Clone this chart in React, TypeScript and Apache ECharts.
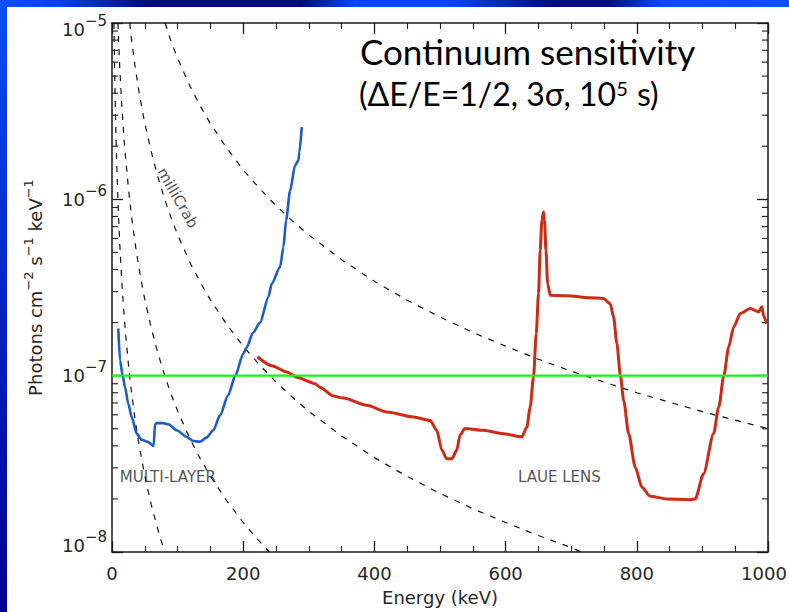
import React, { useEffect, useRef } from 'react';
import * as echarts from 'echarts';

// ---- axis ranges & ticks ----
const energyMin = 0;
const energyMax = 1000;
const energyTickStep = 200;
const fluxMin = 1e-8;
const fluxMax = 1e-5;
const minorMantissas = [2, 3, 4, 5, 6, 7, 8, 9];
const minorDecades = [-8, -7, -6];

// ---- instrument sensitivity curves (Energy keV, photons cm^-2 s^-1 keV^-1) ----
const multiLayer: number[][] = [
  [9.6, 1.85e-7], [12.2, 1.22e-7], [16.3, 1.0e-7], [19.8, 8.6e-8], [24.9, 6.93e-8],
  [30, 5.82e-8], [37.7, 4.69e-8], [45.3, 4.33e-8], [55.4, 4.2e-8], [63.5, 3.99e-8],
  [65.5, 5.3e-8], [68, 5.38e-8], [78, 5.38e-8], [86, 5.3e-8], [98.6, 4.9e-8],
  [114, 4.49e-8], [124, 4.26e-8], [134, 4.22e-8], [144, 4.45e-8], [154.5, 4.9e-8],
  [164.7, 5.96e-8], [177, 7.73e-8], [188, 1.0e-7], [200, 1.33e-7], [205.4, 1.45e-7],
  [215, 1.75e-7], [225.7, 2.0e-7], [238.4, 2.79e-7], [243.6, 3.33e-7], [256.2, 4.13e-7],
  [261.3, 5.36e-7], [265.4, 7.6e-7], [271.5, 1.12e-6], [279.1, 1.56e-6], [284.1, 1.66e-6],
  [285.6, 1.85e-6], [289.3, 2.57e-6],
];

const laueLens: number[][] = [
  [221.6, 1.28e-7], [243.5, 1.14e-7], [266.4, 1.05e-7], [281.6, 9.8e-8], [309.6, 9.0e-8],
  [317, 8.6e-8], [337.5, 7.66e-8], [352.7, 7.46e-8], [388, 6.79e-8], [419, 6.22e-8],
  [459.5, 5.83e-8], [485, 5.57e-8], [495, 4.9e-8], [503, 3.77e-8], [510, 3.38e-8],
  [518, 3.38e-8], [525.5, 3.77e-8], [530.5, 4.6e-8], [538, 5.01e-8], [566, 4.9e-8],
  [596.8, 4.69e-8], [624.8, 4.49e-8], [632.4, 5.11e-8], [637.5, 6.64e-8], [642.5, 9.8e-8],
  [646.7, 1.73e-7], [650.2, 2.92e-7], [652.7, 5.14e-7], [655.3, 7.6e-7], [657.8, 8.47e-7],
  [659.3, 7.6e-7], [661.5, 5.14e-7], [664, 3.33e-7], [668, 2.86e-7], [693.4, 2.84e-7],
  [729, 2.77e-7], [749, 2.74e-7], [759.5, 2.56e-7], [764.6, 2.15e-7], [769.6, 1.52e-7],
  [775, 1.0e-7], [780, 7.24e-8], [787.6, 4.69e-8], [797.6, 3.03e-8], [807.8, 2.33e-8],
  [820.5, 2.07e-8], [846, 2.0e-8], [881.5, 1.98e-8], [889, 2.0e-8], [901.8, 2.78e-8],
  [917, 4.69e-8], [925, 6.64e-8], [932.6, 1.0e-7], [940, 1.45e-7], [947.7, 1.89e-7],
  [957.8, 2.25e-7], [973, 2.4e-7], [985.7, 2.3e-7], [990.8, 2.46e-7], [993, 2.2e-7],
  [998, 1.97e-7],
];

const requirement: number[][] = [[0, 1e-7], [1000, 1e-7]];

// ---- Crab-unit reference curves (dashed) ----
const crab10m: number[][] = [
  [81, 1.0e-5], [90, 7.87e-6], [100, 6.31e-6], [110, 5.2e-6], [120, 4.3e-6], [135, 3.36e-6],
  [150, 2.69e-6], [175, 1.95e-6], [200, 1.47e-6], [225, 1.15e-6], [250, 9.21e-7],
  [275, 7.55e-7], [300, 6.28e-7], [350, 4.55e-7], [400, 3.43e-7], [450, 2.68e-7],
  [500, 2.15e-7], [550, 1.76e-7], [600, 1.47e-7], [650, 1.24e-7], [700, 1.06e-7],
  [800, 8.0e-8], [900, 6.25e-8], [1000, 5.01e-8],
];
const crab1m: number[][] = [
  [27, 1.0e-5], [30, 7.9e-6], [35, 5.72e-6], [40, 4.32e-6], [45, 3.39e-6], [50, 2.7e-6],
  [60, 1.85e-6], [70, 1.34e-6], [80, 1.01e-6], [90, 7.87e-7], [100, 6.31e-7], [120, 4.3e-7],
  [135, 3.36e-7], [150, 2.69e-7], [175, 1.95e-7], [200, 1.47e-7], [225, 1.15e-7],
  [250, 9.21e-8], [275, 7.55e-8], [300, 6.28e-8], [350, 4.55e-8], [400, 3.43e-8],
  [450, 2.68e-8], [500, 2.15e-8], [550, 1.76e-8], [600, 1.47e-8], [650, 1.24e-8],
  [700, 1.06e-8], [715, 1.0e-8],
];
const crab01m: number[][] = [
  [9, 1.0e-5], [10, 7.94e-6], [12, 5.42e-6], [15, 3.39e-6], [17.5, 2.45e-6], [20, 1.85e-6],
  [25, 1.16e-6], [30, 7.9e-7], [35, 5.72e-7], [40, 4.32e-7], [45, 3.39e-7], [50, 2.7e-7],
  [60, 1.85e-7], [70, 1.34e-7], [80, 1.01e-7], [90, 7.87e-8], [100, 6.31e-8], [120, 4.3e-8],
  [135, 3.36e-8], [150, 2.69e-8], [175, 1.95e-8], [200, 1.47e-8], [220, 1.2e-8], [240, 1.0e-8],
];
const crab001m: number[][] = [
  [3, 1.0e-5], [4, 5.44e-6], [5, 3.4e-6], [6, 2.32e-6], [7, 1.69e-6], [8, 1.27e-6],
  [10, 7.94e-7], [12, 5.42e-7], [15, 3.39e-7], [17.5, 2.45e-7], [20, 1.85e-7], [25, 1.16e-7],
  [30, 7.9e-8], [35, 5.72e-8], [40, 4.32e-8], [45, 3.39e-8], [50, 2.7e-8], [60, 1.85e-8],
  [70, 1.34e-8], [80, 1.0e-8],
];

// ---- annotations (data coordinates) ----
const multiLayerLabel = { text: 'MULTI-LAYER', at: [12, 2.65e-8] };
const laueLabel = { text: 'LAUE LENS', at: [619, 2.65e-8] };
const crabLabel = { text: 'milliCrab', at: [100, 1.02e-6] };

const titleLine1 = 'Continuum sensitivity';
const titleLine2 = ['(ΔE/E=1/2, 3σ, 10', '5', ' s)'];

const AXIS = '#1a1a1a';
const TXT = '#262626';
const FONT = 'DejaVu Sans';

const yMinorTicks = minorDecades.flatMap((d) => minorMantissas.map((m) => m * Math.pow(10, d)));

function yLabel(v: number) {
  const e = Math.round(Math.log10(v));
  const core = `{b|10}{s|−${Math.abs(e)}}`;
  if (e === -5) return `{g| }\n${core}`;
  if (e === -8) return `${core}\n{g| }`;
  return core;
}

function xLabel(v: number) {
  return v === energyMax ? `{r|${v}}` : String(v);
}

const dashed = (data: number[][]) => ({
  type: 'line',
  data,
  showSymbol: false,
  symbol: 'none',
  smooth: false,
  silent: true,
  lineStyle: { color: '#111', width: 1.2, type: [6, 7] },
  z: 2,
});

const textLabelSeries = (item: { text: string; at: number[] }, extra: any) => ({
  type: 'scatter',
  data: [item.at],
  symbolSize: 0,
  silent: true,
  z: 4,
  label: {
    show: true,
    formatter: item.text,
    color: TXT,
    fontFamily: FONT,
    fontSize: 15,
    ...extra,
  },
});

export default function App() {
  const ref = useRef<HTMLDivElement>(null);
  useEffect(() => {
    const chart = echarts.init(ref.current!, null, { renderer: 'svg' });
    const axisCommonX = {
      type: 'value',
      min: energyMin,
      max: energyMax,
      interval: energyTickStep,
      axisLine: { show: true, onZero: false, lineStyle: { color: AXIS, width: 1.5 } },
      axisTick: { show: true, inside: true, length: 11, lineStyle: { color: AXIS, width: 1.3 } },
      minorTick: { show: true, splitNumber: 4, length: 6, lineStyle: { color: AXIS, width: 1.1 } },
      splitLine: { show: false },
      minorSplitLine: { show: false },
    };
    const axisCommonY = {
      type: 'log',
      logBase: 10,
      min: fluxMin,
      max: fluxMax,
      axisLine: { show: true, onZero: false, lineStyle: { color: AXIS, width: 1.5 } },
      axisTick: { show: true, inside: true, length: 11, lineStyle: { color: AXIS, width: 1.3 } },
      splitLine: { show: false },
      minorSplitLine: { show: false },
    };
    const option: any = {
      animation: false,
      backgroundColor: '#ffffff',
      grid: { left: 112, right: 21, top: 23, bottom: 60, outerBoundsMode: 'none', containLabel: false },
      xAxis: [
        {
          ...axisCommonX,
          position: 'bottom',
          axisLabel: {
            show: true, margin: 12, color: TXT, fontFamily: FONT, fontSize: 18,
            showMinLabel: true, showMaxLabel: true,
            formatter: xLabel,
            rich: { r: { fontFamily: FONT, fontSize: 18, color: TXT, padding: [0, 8, 0, 0] } },
          },
          name: 'Energy (keV)',
          nameLocation: 'middle',
          nameGap: 36,
          nameMoveOverlap: false,
          nameTextStyle: { color: TXT, fontFamily: FONT, fontSize: 18 },
        },
        { ...axisCommonX, position: 'top', axisLabel: { show: false } },
      ],
      yAxis: [
        {
          ...axisCommonY,
          position: 'left',
          axisLabel: {
            show: true,
            margin: 5,
            showMinLabel: true,
            showMaxLabel: true,
            formatter: yLabel,
            rich: {
              b: { fontFamily: FONT, fontSize: 18, lineHeight: 32, color: TXT },
              s: { fontFamily: FONT, fontSize: 15, verticalAlign: 'top', color: TXT },
              g: { fontSize: 10, lineHeight: 13 },
            },
          },
          name: '{n|Photons cm}{s|−2}{n| s}{s|−1}{n| keV}{s|−1}',
          nameLocation: 'middle',
          nameGap: 64,
          nameRotate: 90,
          nameMoveOverlap: false,
          nameTextStyle: {
            rich: {
              n: { fontFamily: FONT, fontSize: 18, lineHeight: 26, color: TXT },
              s: { fontFamily: FONT, fontSize: 13, verticalAlign: 'top', color: TXT },
            },
          },
        },
        { ...axisCommonY, position: 'right', axisLabel: { show: false } },
      ],
      graphic: [
        {
          type: 'rect', z: 100,
          shape: { x: 0, y: 0, width: 7, height: 612 },
          style: {
            fill: {
              type: 'linear', x: 0, y: 0, x2: 0, y2: 1,
              colorStops: [
                { offset: 0, color: '#0b4ff7' },
                { offset: 0.45, color: '#0626c8' },
                { offset: 1, color: '#00008e' },
              ],
            },
          },
        },
        {
          type: 'rect', z: 100,
          shape: { x: 0, y: 0, width: 789, height: 7 },
          style: {
            fill: {
              type: 'linear', x: 0, y: 0, x2: 1, y2: 0,
              colorStops: [
                { offset: 0, color: '#0b50ff' },
                { offset: 0.07, color: '#0845e8' },
                { offset: 0.19, color: '#000b7c' },
                { offset: 0.38, color: '#000b7c' },
                { offset: 0.45, color: '#0648ef' },
                { offset: 0.57, color: '#0648ef' },
                { offset: 0.7, color: '#000c82' },
                { offset: 0.77, color: '#000c82' },
                { offset: 0.84, color: '#0a4cf5' },
                { offset: 1, color: '#0b50ff' },
              ],
            },
          },
        },
        {
          type: 'text', x: 360, y: 33, z: 100,
          style: { text: titleLine1, fontFamily: 'Lato', fontSize: 35, fill: '#000', verticalAlign: 'top' },
        },
        {
          type: 'text', x: 359, y: 73, z: 100,
          style: {
            text: `{a|${titleLine2[0]}}{b|${titleLine2[1]}}{a|${titleLine2[2]}}`,
            fill: '#000',
            verticalAlign: 'top',
            rich: {
              a: { fontFamily: 'Lato', fontSize: 32, lineHeight: 40, fill: '#000' },
              b: { fontFamily: 'Lato', fontSize: 20, verticalAlign: 'top', padding: [5, 1, 0, 0], fill: '#000' },
            },
          },
        },
      ],
      series: [
        dashed(crab10m),
        dashed(crab1m),
        dashed(crab01m),
        dashed(crab001m),
        {
          type: 'custom',
          silent: true,
          z: 3,
          data: yMinorTicks.map((v) => [energyMin, v]),
          renderItem: (_params: any, api: any) => {
            const v = api.value(1);
            const l = api.coord([energyMin, v]);
            const r = api.coord([energyMax, v]);
            return {
              type: 'group',
              children: [
                { type: 'line', shape: { x1: l[0], y1: l[1], x2: l[0] + 6, y2: l[1] }, style: { stroke: AXIS, lineWidth: 1.1 } },
                { type: 'line', shape: { x1: r[0] - 6, y1: r[1], x2: r[0], y2: r[1] }, style: { stroke: AXIS, lineWidth: 1.1 } },
              ],
            };
          },
        },
        {
          type: 'line', data: multiLayer, symbol: 'none', smooth: 0.25, smoothMonotone: 'x', silent: true, z: 5,
          lineStyle: { color: '#1d5cc6', width: 2.6 },
        },
        {
          type: 'line', data: laueLens, symbol: 'none', smooth: 0.25, smoothMonotone: 'x', silent: true, z: 5,
          lineStyle: { color: '#cc2b16', width: 3 },
        },
        {
          type: 'line', data: requirement, symbol: 'none', silent: true, z: 6,
          lineStyle: { color: '#1cf01c', width: 2.2 },
        },
        textLabelSeries(multiLayerLabel, { position: 'right', distance: 0 }),
        textLabelSeries(laueLabel, { position: 'right', distance: 0 }),
        textLabelSeries(crabLabel, { position: 'inside', rotate: -60 }),
      ],
    };
    chart.setOption(option);
    return () => chart.dispose();
  }, []);
  return <div ref={ref} style={{ position: 'fixed', left: 0, top: 0, width: 789, height: 612 }} />;
}
